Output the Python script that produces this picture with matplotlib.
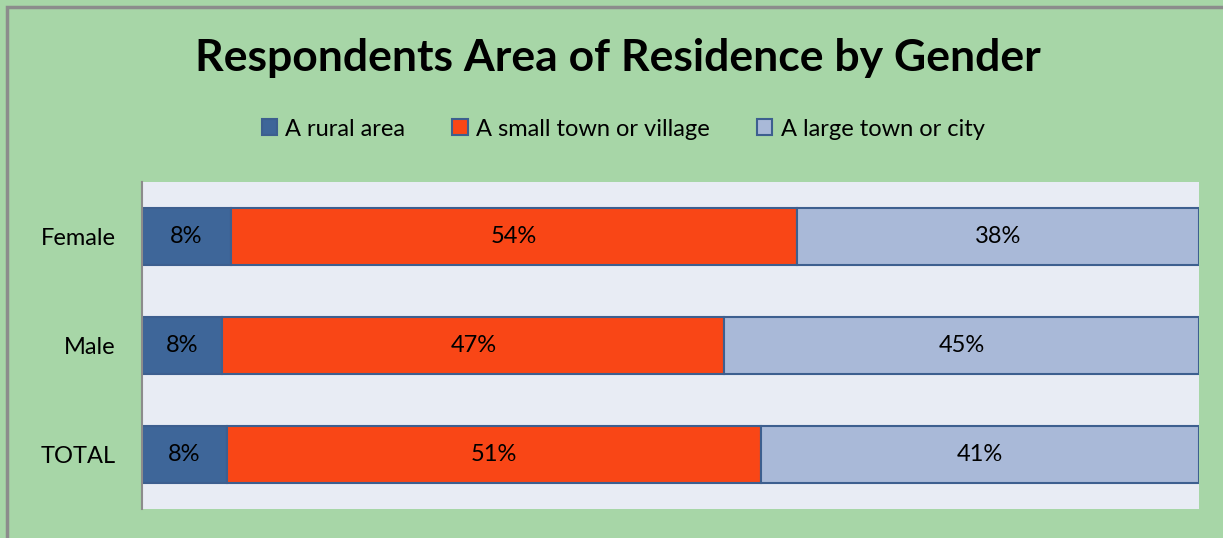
import matplotlib.pyplot as plt
from matplotlib.patches import Rectangle
import numpy as np

categories = ["Female", "Male", "TOTAL"]
series_names = ["A rural area", "A small town or village", "A large town or city"]
rural = [8.4, 7.6, 8.0]
small_town = [53.6, 47.5, 50.6]
large_town = [38.0, 44.9, 41.4]
labels_rural = ["8%", "8%", "8%"]
labels_small = ["54%", "47%", "51%"]
labels_large = ["38%", "45%", "41%"]

colors = ["#3e6699", "#f94616", "#a9b9d8"]
edge = "#3d5f8f"

plt.rcParams['font.family'] = ['Lato', 'DejaVu Sans']

W, H = 1223, 538
fig = plt.figure(figsize=(W / 100, H / 100), dpi=100)
fig.patch.set_facecolor("#a7d6a7")

# outer frame
fig.patches.append(Rectangle((7 / W, -0.05), 1.1, (H - 7) / H + 0.05, transform=fig.transFigure,
                             fill=False, edgecolor="#8c8c8c", linewidth=2.5))

ax = fig.add_axes([142 / W, 1 - 509 / H, (1199 - 142) / W, (509 - 182) / H])
ax.set_facecolor("#e8ecf4")

y = np.arange(len(categories))
h = 0.52
series = [rural, small_town, large_town]
labs = [labels_rural, labels_small, labels_large]
left = np.zeros(len(categories))
for vals, col, name, lab in zip(series, colors, series_names, labs):
    vals = np.array(vals)
    bars = ax.barh(y, vals, left=left, height=h, color=col, edgecolor=edge, linewidth=1.5, label=name)
    for i, b in enumerate(bars):
        ax.text(left[i] + vals[i] / 2, y[i], lab[i], ha="center", va="center", fontsize=17, color="black")
    left += vals

ax.set_xlim(0, 100)
ax.set_ylim(2.5, -0.5)
ax.set_yticks(y)
ax.set_yticklabels(categories, fontsize=17)
ax.tick_params(axis="y", length=0, pad=19)
ax.set_xticks([])
for s in ["top", "right", "bottom"]:
    ax.spines[s].set_visible(False)
ax.spines["left"].set_color("#8c8c8c")
ax.spines["left"].set_linewidth(1.5)

fig.text(618 / W, 1 - 58 / H, "Respondents Area of Residence by Gender", ha="center", va="center",
         fontsize=32, fontweight="bold", color="black")

handles, lbls = ax.get_legend_handles_labels()
leg = fig.legend(handles, lbls, loc="center", bbox_to_anchor=(623 / W, 1 - 129 / H), ncol=3,
                 frameon=False, fontsize=17, handlelength=0.65, handleheight=0.65, handletextpad=0.35,
                 columnspacing=2.0)

fig.savefig("out.png", dpi=100, facecolor=fig.get_facecolor())
